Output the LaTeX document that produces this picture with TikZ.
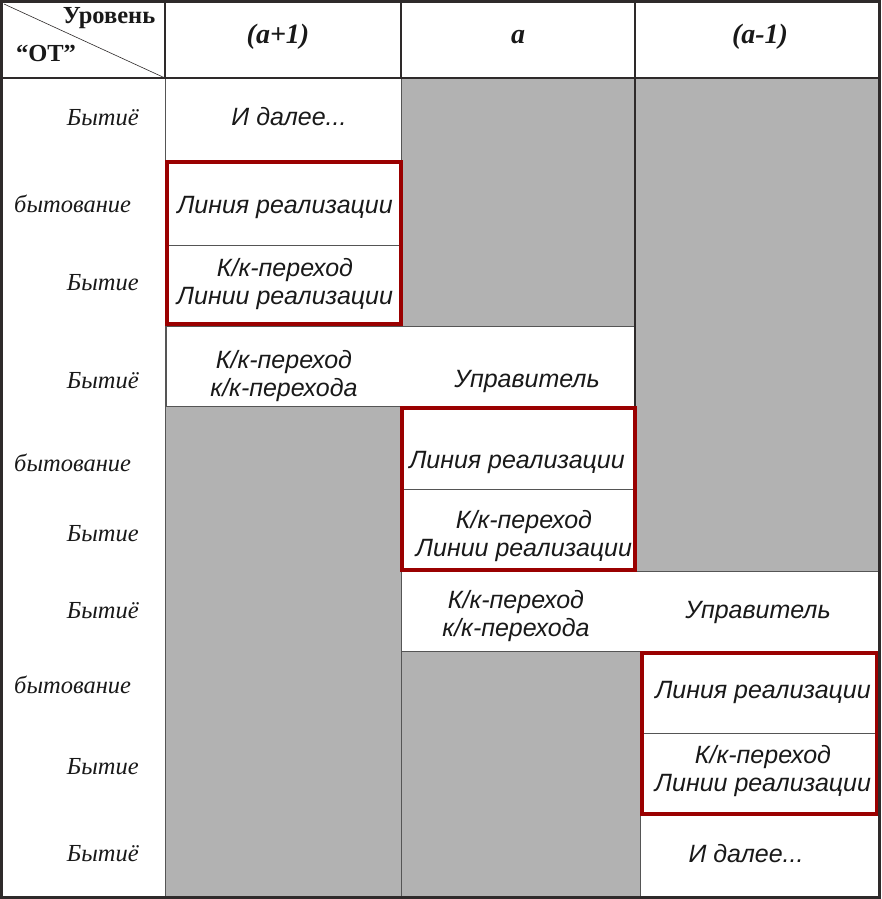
\documentclass[tikz,border=0pt]{standalone}
\usepackage{fontspec}
\setmainfont{Liberation Serif}
\setsansfont{Liberation Sans}
\definecolor{cellgrey}{HTML}{B2B2B2}
\definecolor{framecol}{HTML}{2E2A2A}
\definecolor{thincol}{HTML}{555555}
\definecolor{redbox}{HTML}{9A0000}
\begin{document}
\begin{tikzpicture}[x=1pt,y=-1pt,
  greyfill/.style={fill=cellgrey},
  whitecell/.style={fill=white,draw=thincol,line width=0.9pt},
  thinline/.style={draw=thincol,line width=0.9pt},
  headline/.style={draw=framecol,line width=2.6pt},
  frameline/.style={draw=framecol,line width=2.2pt},
  redframe/.style={draw=redbox,line width=3.6pt},
  celltext/.style={font=\sffamily\itshape\fontsize{25}{28}\selectfont,align=center,text=black!90,inner sep=0pt},
  sidetext/.style={font=\rmfamily\itshape\fontsize{24.5}{28}\selectfont,text=black!90,inner sep=0pt},
  headtext/.style={font=\rmfamily\bfseries\itshape\fontsize{28}{30}\selectfont,text=black!90,inner sep=0pt},
  cornertext/.style={font=\rmfamily\bfseries\fontsize{24.5}{28}\selectfont,text=black!90,inner sep=0pt}]
\useasboundingbox (0,0) rectangle (881,899);
\fill[white] (0,0) rectangle (881,899);
% grey areas
\path[greyfill] (165,406) rectangle (401,897);
\path[greyfill] (401,78) rectangle (635,326);
\path[greyfill] (401,651) rectangle (640,897);
\path[greyfill] (635,78) rectangle (879,571);
% white cells
\path[whitecell] (165,78) rectangle (401,160);
\path[whitecell] (166,161) rectangle (401,325);
\path[thinline] (166,245) -- (401,245);
\path[whitecell] (166,326) rectangle (635,406);
\path[whitecell] (401,407) rectangle (635,571);
\path[thinline] (401,489) -- (635,489);
\path[whitecell] (401,571) rectangle (879,651);
\path[whitecell] (640,652) rectangle (878,815);
\path[thinline] (640,733) -- (878,733);
\path[whitecell] (640,815) rectangle (879,897);
% thin verticals
\path[thinline] (165,78) -- (165,897);
\path[thinline] (401,406) -- (401,897);
\path[thinline] (640,651) -- (640,897);
\path[thinline] (401,78) -- (401,326);
\path[draw=framecol,line width=1.8pt] (635,78) -- (635,571);
% red frames
\path[redframe] (167,162) rectangle (401,324);
\path[redframe] (402,408) rectangle (635,570);
\path[redframe] (642,653) rectangle (877,814);
% header
\path[headline] (0,78) -- (881,78);
\path[headline] (165,2) -- (165,78);
\path[headline] (401,2) -- (401,78);
\path[headline] (635,2) -- (635,78);
\path[draw=framecol,line width=0.6pt] (4,4) -- (165,78);
% outer frame
\path[frameline] (1.5,1.5) rectangle (879.5,897.5);
% header texts
\node[cornertext] (lev) at (109,18) {Уровень};
\node[cornertext] (ot) at (46,53) {“ОТ”};
\node[headtext] (h1) at (278,37) {(a+1)};
\node[headtext] (h2) at (518,37) {a};
\node[headtext] (h3) at (760,37) {(a-1)};
% side labels
\node[sidetext,anchor=east] (s1) at (139,118) {Бытиё};
\node[sidetext,anchor=west] (s2) at (14,204) {бытование};
\node[sidetext,anchor=east] (s3) at (139,283) {Бытие};
\node[sidetext,anchor=east] (s4) at (139,381) {Бытиё};
\node[sidetext,anchor=west] (s5) at (14,463) {бытование};
\node[sidetext,anchor=east] (s6) at (139,534) {Бытие};
\node[sidetext,anchor=east] (s7) at (139,611) {Бытиё};
\node[sidetext,anchor=west] (s8) at (14,685) {бытование};
\node[sidetext,anchor=east] (s9) at (139,767) {Бытие};
\node[sidetext,anchor=east] (s10) at (139,854) {Бытиё};
% cell texts
\node[celltext] (c1) at (289,117) {И далее...};
\node[celltext] (c2) at (285,207) {Линия реализации};
\node[celltext] (c3) at (285,284) {К/к-переход\\Линии реализации};
\node[celltext] (c4) at (284,376) {К/к-переход\\к/к-перехода};
\node[celltext] (c5) at (527,381) {Управитель};
\node[celltext] (c6) at (517,462) {Линия реализации};
\node[celltext] (c7) at (524,536) {К/к-переход\\Линии реализации};
\node[celltext] (c8) at (516,616) {К/к-переход\\к/к-перехода};
\node[celltext] (c9) at (758,612) {Управитель};
\node[celltext] (c10) at (763,692) {Линия реализации};
\node[celltext] (c11) at (763,771) {К/к-переход\\Линии реализации};
\node[celltext] (c12) at (746,854) {И далее...};
\end{tikzpicture}
\end{document}
